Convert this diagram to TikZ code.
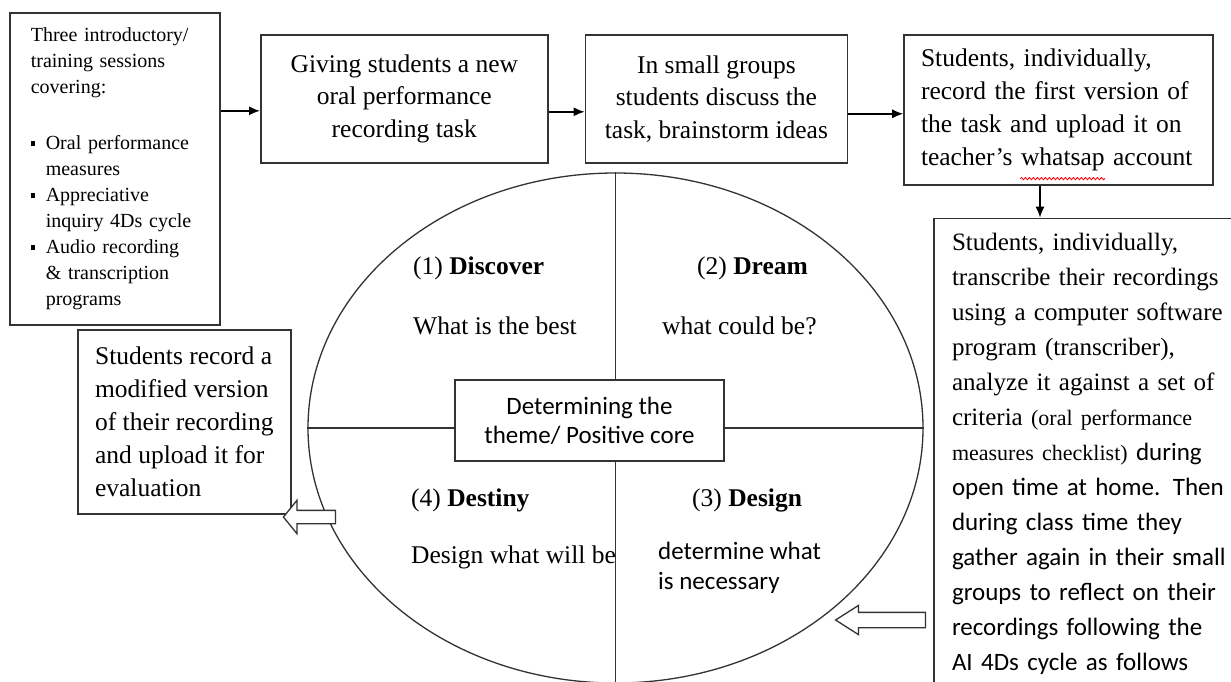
\documentclass[tikz,border=0pt]{standalone}
\usepackage{fontspec}
\setmainfont{Liberation Serif}
\newfontfamily\calibri{Carlito}
\usetikzlibrary{arrows.meta,positioning,shapes.geometric,shapes.arrows,decorations.pathmorphing}

\newcommand{\blt}{\makebox[15pt][l]{\rule[4pt]{4.5pt}{4.5pt}}}
\newcommand{\smallserif}{\fontsize{22}{35}\selectfont}

\begin{document}
\begin{tikzpicture}[
    x=1pt, y=-1pt,
    >={Latex[length=11pt,width=9pt]},
    every node/.style={font=\fontsize{25.5}{32.5}\selectfont, inner sep=0pt},
    bx/.style={draw=black!80, line width=1.6pt, align=center},
    quad/.style={draw=black!80, line width=1.3pt},
    lbl/.style={anchor=west},
    hollow/.style={draw=black!80, fill=white, line width=1.3pt, single arrow,
      shape border rotate=180, single arrow head indent=0pt, inner xsep=0pt},
  ]
    \useasboundingbox (0,0) rectangle (1231,681);
    \fill[white] (0,0) rectangle (1231,681);
    \clip (0,0) rectangle (1231,681);

    % top row
    \node[bx, anchor=north west, align=left, text width=168pt, inner xsep=21pt,
      minimum height=312pt, font=\fontsize{20}{26}\selectfont] (intro) at (9,12)
      {Three introductory/\\training sessions\\covering:\\[30pt]
       \blt Oral performance\\\hspace*{15pt}measures\\
       \blt Appreciative\\\hspace*{15pt}inquiry 4Ds cycle\\
       \blt Audio recording\\\hspace*{15pt}\& transcription\\\hspace*{15pt}programs};
    \node[bx, anchor=north west, minimum width=287pt, minimum height=128pt] (task) at (260,34)
      {Giving students a new\\oral performance\\recording task};
    \node[bx, minimum width=262pt, minimum height=128pt, right=36pt of task] (groups)
      {In small groups\\students discuss the\\task, brainstorm ideas};
    \node[bx, align=left, text width=275pt, inner xsep=17pt, minimum height=150pt,
      font=\fontsize{25.5}{33}\selectfont,
      right=55pt of groups.north east, anchor=north west] (first)
      {Students, individually,\\record the first version of\\the task and upload it on\\teacher's whatsap account};
    \draw[red, line width=0.8pt, decorate, decoration={snake, amplitude=1.2pt, segment length=4pt}]
      ([xshift=117pt, yshift=7pt]first.south west) -- ([xshift=202pt, yshift=7pt]first.south west);

    \node[bx, align=left, text width=300pt, inner xsep=18pt, inner ysep=15pt,
      font=\fontsize{25}{35}\selectfont,
      below=32pt of first.south west, anchor=north west, xshift=30pt] (transcribe)
      {Students, individually,\\
       transcribe their recordings\\
       using a computer software\\
       program (transcriber),\\
       analyze it against a set of\\
       criteria {\smallserif (oral performance}\\
       {\smallserif measures checklist)} {\calibri during}\\
       {\calibri open time at home. Then}\\
       {\calibri during class time they}\\
       {\calibri gather again in their small}\\
       {\calibri groups to reflect on their}\\
       {\calibri recordings following the}\\
       {\calibri AI 4Ds cycle as follows}};

    \coordinate (ab) at ([yshift=-12pt]task.west);
    \coordinate (bc) at ([yshift=-13pt]groups.west);
    \coordinate (cd) at ([yshift=-4pt]first.west);
    \draw[->, line width=1.4pt] (intro.east |- ab) -- (ab);
    \draw[->, line width=1.4pt] (task.east |- bc) -- (bc);
    \draw[->, line width=1.4pt] (groups.east |- cd) -- (cd);
    \draw[->, line width=1.4pt] ([xshift=-18.5pt]first.south) -- ([xshift=-18.5pt]first.south |- transcribe.north);

    % 4D cycle
    \node[draw=black!80, line width=1.3pt, ellipse, minimum width=615pt, minimum height=510pt] (wheel) at (615.5,428) {};
    \node[bx, font=\calibri\fontsize{25}{29}\selectfont, minimum width=269pt, minimum height=81pt] (core) at (589.5,420.5)
      {Determining the\\theme/ Positive core};
    \draw[quad] (wheel.north) -- (wheel.north |- core.north);
    \draw[quad] (wheel.north |- core.south) -- (wheel.south);
    \draw[quad] (wheel.west) -- (wheel.west -| core.west);
    \draw[quad] (core.east |- wheel.east) -- (wheel.east);

    \node[lbl] (disc) at (413,268) {(1) \textbf{Discover}};
    \node[lbl] (disctxt) at (413,326) {What is the best};
    \node[lbl] (dream) at (697,268) {(2) \textbf{Dream}};
    \node[lbl] (dreamtxt) at (662,326) {what could be?};
    \node[lbl] (dest) at (411,500) {(4) \textbf{Destiny}};
    \node[lbl] (desttxt) at (411,557) {Design what will be};
    \node[lbl] (desg) at (692,500) {(3) \textbf{Design}};
    \node[lbl, align=left, font=\calibri\fontsize{25}{30}\selectfont] (desgtxt) at (658,568)
      {determine what\\is necessary};

    % last step and the hollow arrows
    \node[bx, align=left, anchor=north west, inner xsep=16pt, minimum width=213pt,
      minimum height=184pt, font=\fontsize{25.5}{33}\selectfont] (modified) at (77,329)
      {Students record a\\modified version\\of their recording\\and upload it for\\evaluation};
    \node[hollow, inner ysep=7pt, single arrow head extend=7pt, single arrow tip angle=65,
      minimum height=90pt, anchor=tail] (inarr) at ([xshift=-7pt]transcribe.west |- 0,620) {};
    \node[hollow, inner ysep=6pt, single arrow head extend=10pt, single arrow tip angle=102,
      minimum height=52pt, anchor=tip] (outarr) at ([xshift=-9pt]modified.east |- 0,517) {};
\end{tikzpicture}
\end{document}
